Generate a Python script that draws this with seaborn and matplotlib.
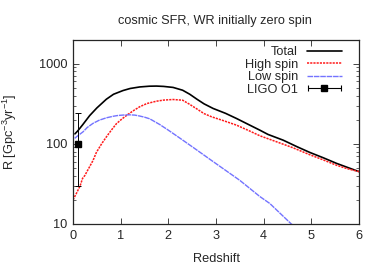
import numpy as np
import matplotlib
matplotlib.use("Agg")
import matplotlib.pyplot as plt
import seaborn as sns
from matplotlib.legend_handler import HandlerErrorbar

# -----------------------------
# DATA
# -----------------------------
z_total = [0.04, 0.1, 0.2, 0.35, 0.5, 0.7, 0.85, 1.05, 1.2, 1.4, 1.6, 1.75, 1.9, 2.1, 2.3,
           2.45, 2.6, 2.75, 2.94, 3.2, 3.43, 3.7, 3.92, 4.09, 4.41, 4.7, 4.97, 5.25, 5.53, 5.75, 6.0]
r_total = [133, 145, 172, 225, 280, 360, 415, 462, 490, 512, 523, 525, 520, 505, 466,
           415, 360, 315, 276, 240, 207, 172, 148, 131, 111, 92, 78, 67, 57, 51, 45]

z_high = [0.0, 0.07, 0.15, 0.2, 0.245, 0.35, 0.42, 0.49, 0.6, 0.7, 0.8, 0.91, 1.03, 1.15, 1.28, 1.4,
          1.55, 1.75, 1.9, 2.1, 2.3, 2.45, 2.6, 2.75, 2.91, 3.15, 3.43, 3.7, 3.92, 4.27, 4.6, 4.97, 5.25, 5.53, 5.75, 6.0]
r_high = [20, 24, 30, 37, 40, 52, 62, 78, 100, 122, 147, 178, 205, 232, 262, 290,
          318, 340, 351, 357, 350, 310, 272, 238, 217, 195, 171, 145, 126, 106, 90, 73, 63, 54, 49, 45]

z_low = [0.035, 0.1, 0.21, 0.3, 0.42, 0.55, 0.7, 0.85, 0.95, 1.08, 1.19, 1.3, 1.4, 1.5, 1.61, 1.82,
         2.0, 2.24, 2.5, 2.94, 3.5, 3.92, 4.13, 4.58, 4.7]
r_low = [117, 126, 141, 160, 180, 197, 211, 221, 226, 229, 230, 228, 222, 215, 205, 174,
         148, 118, 92, 60, 35, 22, 18, 10, 8.9]

ligo_z = [0.1]
ligo_r = [100]
ligo_lo = [30]
ligo_hi = [240]

# -----------------------------
# STYLE
# -----------------------------
sns.set_style("ticks")
plt.rcParams['font.family'] = ['Liberation Sans', 'DejaVu Sans']
plt.rcParams['mathtext.fontset'] = 'custom'
plt.rcParams['mathtext.rm'] = 'Liberation Sans'
plt.rcParams['mathtext.it'] = 'Liberation Sans'
plt.rcParams['xtick.direction'] = 'in'
plt.rcParams['ytick.direction'] = 'in'
fs = 9.2

fig = plt.figure(figsize=(3.82, 2.67), dpi=100)
ax = fig.add_axes([73 / 382, 1 - 224 / 267, 286 / 382, 184.5 / 267])

sns.lineplot(x=z_total, y=r_total, ax=ax, color='black', linewidth=1.2, label='Total')
sns.lineplot(x=z_high, y=r_high, ax=ax, color='#ff1a1a', linewidth=1.1,
             linestyle=(0, (1.4, 0.7)), label='High spin')
sns.lineplot(x=z_low, y=r_low, ax=ax, color='#7373ff', linewidth=1.0,
             linestyle=(0, (4, 0.6)), label='Low spin')

yerr = np.array([[ligo_r[0] - ligo_lo[0]], [ligo_hi[0] - ligo_r[0]]])
ax.errorbar(ligo_z, ligo_r, yerr=yerr, fmt='s', color='black', markersize=4.6,
            elinewidth=0.7, capsize=2, capthick=0.7, label='_nolegend_')
# dummy with a horizontal bar, only for the legend key
ax.errorbar([np.nan], [np.nan], xerr=[1], fmt='s', color='black', markersize=4.6,
            elinewidth=0.8, capsize=2, capthick=0.8, label='LIGO O1')

ax.set_yscale('log')
ax.set_xlim(0, 6)
ax.set_ylim(10, 2000)
ax.set_xticks(range(0, 7))
ax.set_yticks([10, 100, 1000])
ax.set_yticklabels(['10', '100', '1000'])
ax.tick_params(which='both', top=True, right=True, labelsize=fs)
ax.tick_params(which='major', length=4, width=0.6, pad=4)
ax.tick_params(which='minor', length=2, width=0.5)
ax.xaxis.set_minor_locator(plt.NullLocator())
for s in ax.spines.values():
    s.set_linewidth(0.9)

ax.set_xlabel('Redshift', fontsize=fs)
ax.set_ylabel(r'R [Gpc$^{-3}$yr$^{-1}$]', fontsize=fs)
ax.xaxis.set_label_coords(0.5, -0.155)
ax.yaxis.set_label_coords(-0.19, 0.5)
fig.text(0.563, 0.922, 'cosmic SFR, WR initially zero spin', ha='center', va='center', fontsize=fs)

handles, labels = ax.get_legend_handles_labels()
leg = ax.legend(handles, labels, loc='upper right', frameon=False, markerfirst=False, fontsize=fs,
                handlelength=2.75, labelspacing=0.05, borderpad=0, borderaxespad=0,
                handletextpad=0.7, bbox_to_anchor=(1 - 17 / 286, 1 - 6.5 / 184.5),
                handler_map={type(handles[-1]): HandlerErrorbar(xerr_size=1.3)})

fig.savefig('out.png', dpi=100)
